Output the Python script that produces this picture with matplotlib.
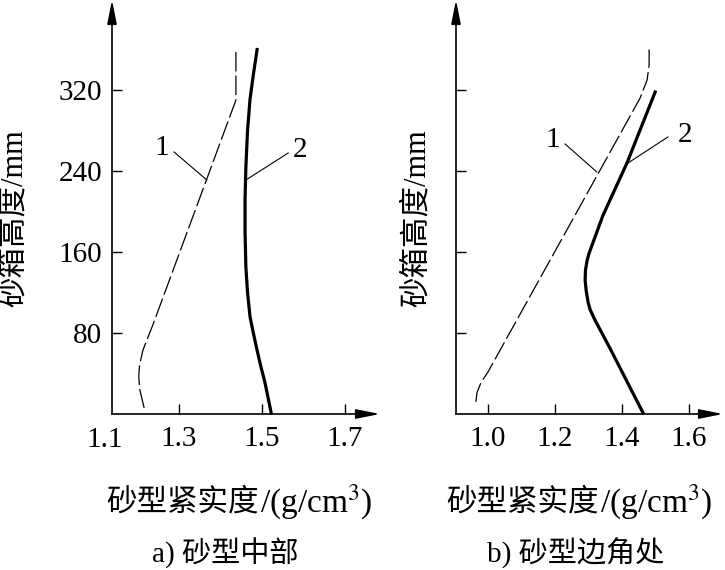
import matplotlib
matplotlib.use("Agg")
import matplotlib.pyplot as plt

plt.rcParams['font.family'] = ['Liberation Serif', 'Noto Sans CJK SC']
plt.rcParams['mathtext.fontset'] = 'stix'
plt.rcParams['lines.scale_dashes'] = False
FS = 21

# ---- data: panel a) 砂型中部 ----
a_h1 = [6, 25, 38, 48, 63, 88, 310, 360]
a_x1 = [1.216, 1.205, 1.203, 1.205, 1.213, 1.237, 1.437, 1.437]
a_h2 = [1, 15, 31, 47, 63, 80, 96, 120, 145, 180, 212, 244, 280, 311, 335, 360]
a_x2 = [1.522, 1.515, 1.507, 1.497, 1.488, 1.479, 1.471, 1.465, 1.461, 1.459,
        1.459, 1.461, 1.465, 1.471, 1.479, 1.488]

# ---- data: panel b) 砂型边角处 ----
b_h1 = [12, 21, 31, 41.5, 63, 312, 330, 345, 360]
b_x1 = [0.964, 0.967, 0.979, 1.000, 1.036, 1.454, 1.475, 1.481, 1.481]
b_h2 = [1, 65, 93, 103, 110, 122, 132, 142, 152, 159, 196, 248, 318]
b_x2 = [1.463, 1.364, 1.319, 1.305, 1.299, 1.293, 1.290, 1.291, 1.296, 1.302,
        1.343, 1.415, 1.499]

y_ticks = [80, 160, 240, 320]
a_xticks = [1.3, 1.5, 1.7]
a_xtick_labels = ['1.3', '1.5', '1.7']
b_xticks = [1.0, 1.2, 1.4, 1.6]
b_xtick_labels = ['1.0', '1.2', '1.4', '1.6']

ylabel = '砂箱高度/mm'
xlabel_cjk = '砂型紧实度'
xlabel_unit = '/(g/cm$^{3}$)'
titles = ['a) 砂型中部', 'b) 砂型边角处']

W, H = 725, 570
fig = plt.figure(figsize=(W / 100, H / 100), dpi=100)

ax1 = fig.add_axes([112 / W, 1 - 414 / H, 268 / W, 414 / H])
ax2 = fig.add_axes([456 / W, 1 - 414 / H, 267 / W, 414 / H])

YTOP = 414 * 80 / 81
ax1.set_xlim(1.1386, 1.784)
ax2.set_xlim(0.9045, 1.7015)
for ax in (ax1, ax2):
    ax.set_ylim(0, YTOP)
    ax.set_facecolor('none')
    for s in ax.spines.values():
        s.set_visible(False)
    arr = dict(arrowstyle='-|>,head_length=0.9,head_width=0.18', color='black',
               lw=1.2, shrinkA=0, shrinkB=0, mutation_scale=16)
    ax.annotate('', xy=(1, 0), xytext=(0, 0), xycoords='axes fraction',
                textcoords='axes fraction', arrowprops=arr, annotation_clip=False)
    ax.annotate('', xy=(0, 1), xytext=(0, 0), xycoords='axes fraction',
                textcoords='axes fraction', arrowprops=arr, annotation_clip=False)
    ax.set_yticks(y_ticks)
    ax.tick_params(direction='in', length=7, width=1.0, labelsize=FS, color='black')
    ax.tick_params(axis='x', pad=9)
    ax.tick_params(axis='y', pad=7)

ax1.set_xticks(a_xticks)
ax1.set_xticklabels(a_xtick_labels)
ax1.set_yticklabels([str(v) for v in y_ticks])
ax1.text(1.12, -0.062, '1.1', transform=ax1.get_xaxis_transform(), ha='center',
         va='center', fontsize=FS)
ax2.set_xticks(b_xticks)
ax2.set_xticklabels(b_xtick_labels)
ax2.tick_params(axis='y', labelleft=False)

# curves
ax1.plot(a_x1, a_h1, color='black', lw=0.9, dashes=(14, 3), clip_on=False)
ax1.plot(a_x2, a_h2, color='black', lw=2.3, solid_joinstyle='round', clip_on=False)
ax2.plot(b_x1, b_h1, color='black', lw=0.9, dashes=(14, 3), clip_on=False)
ax2.plot(b_x2, b_h2, color='black', lw=2.3, solid_joinstyle='round', clip_on=False)

# leader lines and labels
ax1.plot([1.288, 1.367], [258.8, 231.1], color='black', lw=0.8)
ax1.plot([1.563, 1.461], [257.8, 231.1], color='black', lw=0.8)
ax1.text(1.259, 262.7, '1', ha='center', va='center', fontsize=FS)
ax1.text(1.592, 260.7, '2', ha='center', va='center', fontsize=FS)

ax2.plot([1.230, 1.325], [266.7, 239.0], color='black', lw=0.8)
ax2.plot([1.537, 1.418], [273.6, 247.9], color='black', lw=0.8)
ax2.text(1.194, 270.6, '1', ha='center', va='center', fontsize=FS)
ax2.text(1.588, 276.0, '2', ha='center', va='center', fontsize=FS)

# axis labels and subtitles
fig.text(14 / W, 1 - 218 / H, ylabel, rotation=90, ha='center', va='center', fontsize=FS + 1)
fig.text(417 / W, 1 - 218 / H, ylabel, rotation=90, ha='center', va='center', fontsize=FS + 1)
for split in (259, 599):
    fig.text(split / W, 1 - 510 / H, xlabel_cjk, ha='right', va='baseline', fontsize=22)
    fig.text((split + 1) / W, 1 - 512 / H, xlabel_unit, ha='left', va='baseline', fontsize=24)
fig.text(225 / W, 1 - 553 / H, titles[0], ha='center', va='center', fontsize=FS)
fig.text(576 / W, 1 - 553 / H, titles[1], ha='center', va='center', fontsize=FS)

fig.savefig('out.png', dpi=100)
